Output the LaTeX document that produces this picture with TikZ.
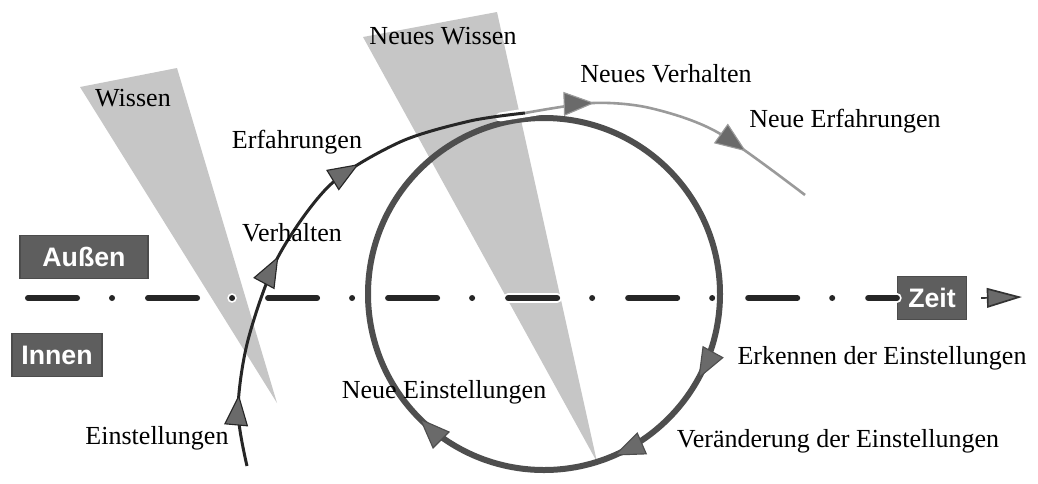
\documentclass[tikz,border=0pt]{standalone}
\usepackage{fontspec}
\setmainfont{Liberation Serif}
\setsansfont{Liberation Sans}
\usetikzlibrary{arrows.meta,decorations.markings}
\definecolor{beamgray}{HTML}{C6C6C6}
\definecolor{boxgray}{HTML}{5E5E5E}
\definecolor{ringgray}{HTML}{4E4E4E}
\definecolor{tipgray}{HTML}{6A6A6A}
\definecolor{fadegray}{HTML}{9A9A9A}
\tikzset{
  lbl/.style={font=\fontsize{18.5}{20}\selectfont, inner sep=1pt},
  tag/.style={fill=boxgray, draw=black!70, thick, text=white,
    font=\sffamily\bfseries\fontsize{19}{20}\selectfont,
    minimum height=1.075cm, inner sep=2pt},
  beam/.style={fill=beamgray},
  head/.style={postaction={decorate, decoration={markings,
    mark=at position #1 with {\arrow{Triangle[length=22pt,width=17pt,fill=tipgray,line width=0.8pt]}}}}},
  timeline/.style={line width=0.15cm, line cap=round,
    dash pattern=on 1.225cm off 0.875cm on 0cm off 0.9cm},
}
\begin{document}
\begin{tikzpicture}[x=0.025cm, y=-0.025cm]
\useasboundingbox (0,0) rectangle (1038,483);

% light wedges
\fill[beam] (80,87) -- (177,68) -- (277,403) -- cycle;
\fill[beam] (363,37) -- (497,12) -- (597,462) -- cycle;
\node[lbl] (wissen) at (133,98) {Wissen};
\node[lbl] (nwissen) at (443,36) {Neues Wissen};

% boxes
\node[tag, minimum width=3.2cm] (aussen) at (84,257) {Außen};
\node[tag, minimum width=2.25cm] (innen) at (57,355) {Innen};
\node[tag, minimum width=1.725cm] (zeit) at (932,298) {Zeit};

% time axis
\coordinate (tstart) at (28,298);
\coordinate (tend) at (1022,297);
\draw[timeline, white, line width=0.24cm] (tstart) -- (tstart -| zeit.west);
\draw[timeline, black!85] (tstart) -- (tstart -| zeit.west);
\draw[line width=1.2pt, black!80, -{Triangle[length=25pt,width=14pt,fill=tipgray]}]
  ([xshift=0.35cm]zeit.east) -- (tend);

% cycle
\draw[ringgray, line width=0.15cm, head=0.33, head=0.435, head=0.625]
  (544,118) arc[start angle=-90, end angle=270, radius=176];

% path through time
\draw[white, line width=0.22cm, line cap=round] plot[smooth] coordinates {(500,117) (525,113) (593,103) (630,105)};
\draw[black!85, line width=0.075cm, head=0.14, head=0.42, head=0.66]
  plot[smooth] coordinates {(247,466) (238,410) (248,340) (278,257) (330,185) (400,142) (470,121) (525,113)};
\draw[fadegray, line width=0.065cm, head=0.23, head=0.76]
  plot[smooth] coordinates {(525,113) (593,103) (650,108) (717,132) (805,195)};

% labels
\node[lbl] (einst) at (157,438) {Einstellungen};
\node[lbl] (verh) at (292,233) {Verhalten};
\node[lbl] (erf) at (297,142) {Erfahrungen};
\node[lbl] (nverh) at (666,74) {Neues Verhalten};
\node[lbl] (nerf) at (845,121) {Neue Erfahrungen};
\node[lbl] (erk) at (882,358) {Erkennen der Einstellungen};
\node[lbl] (veraend) at (838,441) {Veränderung der Einstellungen};
\node[lbl] (neinst) at (444,392) {Neue Einstellungen};
\end{tikzpicture}
\end{document}
